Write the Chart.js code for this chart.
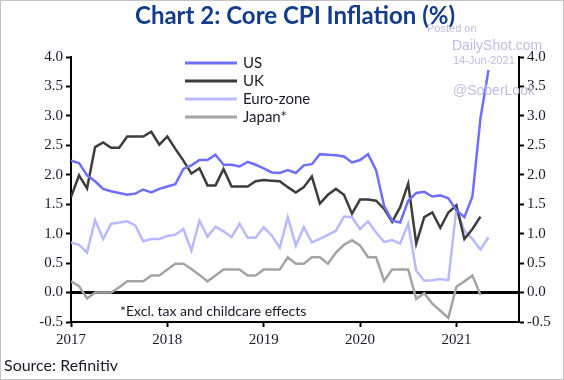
<!DOCTYPE html>
<html>
<head>
<meta charset="utf-8">
<script src="https://cdn.jsdelivr.net/npm/chart.js@4"></script>
<style>
  body { margin: 0; background: #fff; }
  canvas { display: block; }
</style>
</head>
<body>
<canvas id="canvas" width="564" height="380"></canvas>
<script>
"use strict"

// monthly, starting Jan 2017
const startYear = 2017;
const yearTicks = ['2017', '2018', '2019', '2020', '2021'];
const seriesNames = ['US', 'UK', 'Euro-zone', 'Japan*'];

const usCore = [
    2.24, 2.20, 1.99, 1.89, 1.76, 1.72, 1.69, 1.66, 1.68, 1.75, 1.70, 1.76,
    1.80, 1.84, 2.10, 2.16, 2.25, 2.25, 2.34, 2.17, 2.17, 2.14, 2.22, 2.17,
    2.11, 2.04, 2.03, 2.08, 2.03, 2.16, 2.18, 2.35, 2.34, 2.33, 2.31, 2.21,
    2.25, 2.35, 2.08, 1.47, 1.22, 1.19, 1.56, 1.69, 1.71, 1.63, 1.65, 1.60,
    1.40, 1.28, 1.63, 2.96, 3.78
];
const ukCore = [
    1.62, 1.99, 1.77, 2.47, 2.55, 2.46, 2.46, 2.65, 2.65, 2.65, 2.73, 2.51,
    2.65, 2.44, 2.24, 2.02, 2.11, 1.82, 1.82, 2.10, 1.80, 1.80, 1.80, 1.89,
    1.91, 1.90, 1.89, 1.79, 1.70, 1.79, 1.97, 1.51, 1.66, 1.76, 1.66, 1.34,
    1.58, 1.58, 1.56, 1.42, 1.20, 1.45, 1.85, 0.83, 1.28, 1.36, 1.10, 1.36,
    1.48, 0.91, 1.08, 1.29
];
const euroCore = [
    0.85, 0.81, 0.68, 1.23, 0.91, 1.17, 1.19, 1.21, 1.14, 0.87, 0.91, 0.91,
    0.96, 0.98, 1.08, 0.71, 1.22, 0.95, 1.12, 1.04, 0.94, 1.17, 0.93, 0.93,
    1.11, 0.97, 0.76, 1.28, 0.80, 1.11, 0.85, 0.91, 0.98, 1.05, 1.29, 1.28,
    1.08, 1.21, 1.02, 0.86, 0.89, 0.83, 1.17, 0.37, 0.20, 0.21, 0.23, 0.21,
    1.42, 1.05, 0.91, 0.73, 0.94
];
const japanCore = [
    0.19, 0.11, -0.10, 0.00, 0.00, 0.00, 0.09, 0.19, 0.19, 0.19, 0.29, 0.29,
    0.39, 0.49, 0.49, 0.40, 0.30, 0.19, 0.29, 0.39, 0.39, 0.39, 0.29, 0.29,
    0.39, 0.39, 0.39, 0.60, 0.49, 0.49, 0.60, 0.60, 0.49, 0.68, 0.81, 0.89,
    0.80, 0.60, 0.60, 0.20, 0.39, 0.39, 0.39, -0.11, -0.01, -0.19, -0.31, -0.43,
    0.10, 0.19, 0.29, -0.04
];

const colori = ['#6e6eff', '#3d3d3d', '#b9b9ff', '#a4a4a4'];

function punti(valori){
    return valori.map((v, i) => ({x: i, y: v}));
}

// title, notes, watermark, legend and frame
const decorazioni = {
    id: 'decorazioni',
    afterDraw(chart){
        const ctx = chart.ctx;
        ctx.save();
        ctx.strokeStyle = '#c4c4c4';
        ctx.lineWidth = 1;
        ctx.strokeRect(0.5, 0.5, 563, 379);

        ctx.fillStyle = '#143c8c';
        ctx.font = 'bold 24px Lato';
        ctx.textAlign = 'center';
        ctx.textBaseline = 'middle';
        ctx.fillText('Chart 2: Core CPI Inflation (%)', 295, 16);

        ctx.fillStyle = '#bdbde0';
        ctx.textAlign = 'left';
        ctx.font = '11px "Liberation Sans"';
        ctx.fillText('Posted on', 427, 29);
        ctx.fillText('14-Jun-2021', 453, 61);
        ctx.font = '14px "Liberation Sans"';
        ctx.fillText('DailyShot.com', 452, 46);
        ctx.fillText('@SoberLook', 453, 91);

        // legend
        chart.data.datasets.forEach((ds, i) => {
            const y = 63 + i * 18;
            ctx.strokeStyle = ds.borderColor;
            ctx.lineWidth = 3;
            ctx.beginPath();
            ctx.moveTo(185, y);
            ctx.lineTo(237, y);
            ctx.stroke();
            ctx.fillStyle = '#1a1a2a';
            ctx.font = '15px Lato';
            ctx.fillText(ds.label, 243, y);
        });

        ctx.fillStyle = '#1a1a2a';
        ctx.font = '14px Lato';
        ctx.fillText('*Excl. tax and childcare effects', 120, 311);
        ctx.font = '16px Lato';
        ctx.fillText('Source: Refinitiv', 4, 366);
        ctx.restore();
    }
};

const fontAssi = {family: '"Liberation Serif"', size: 15};

const ctx = document.getElementById('canvas').getContext('2d');
const myChart = new Chart(ctx, {
    type: 'line',
    data: {
        datasets: [usCore, ukCore, euroCore, japanCore].map((serie, i) => ({
            label: seriesNames[i],
            data: punti(serie),
            borderColor: colori[i],
            borderWidth: 2.5,
            pointRadius: 0,
            tension: 0,
            fill: false
        }))
    },
    options: {
        responsive: false,
        animation: false,
        layout: {padding: {top: 57, bottom: 28, left: 0, right: 0}},
        plugins: {
            legend: {display: false},
            tooltip: {enabled: false}
        },
        scales: {
            x: {
                type: 'linear',
                min: 0,
                max: 55.8,
                afterFit: s => { s.height = 30; },
                border: {color: '#000', width: 2},
                grid: {drawOnChartArea: false, tickLength: 5, tickColor: '#000', tickWidth: 2},
                ticks: {
                    stepSize: 12,
                    includeBounds: false,
                    autoSkip: false,
                    maxRotation: 0,
                    color: '#1a1a2a',
                    font: fontAssi,
                    padding: 4,
                    callback: v => yearTicks[v / 12] || ''
                }
            },
            y: {
                min: -0.5,
                max: 4.0,
                position: 'left',
                afterFit: s => { s.width = 71; },
                border: {color: '#000', width: 2},
                grid: {
                    color: c => c.tick && c.tick.value === 0 ? '#000' : 'rgba(0,0,0,0)',
                    lineWidth: c => c.tick && c.tick.value === 0 ? 3 : 1,
                    tickColor: '#000',
                    tickLength: 5,
                    tickWidth: 2
                },
                ticks: {
                    stepSize: 0.5,
                    color: '#1a1a2a',
                    font: fontAssi,
                    padding: 3,
                    callback: v => v.toFixed(1)
                }
            },
            y2: {
                min: -0.5,
                max: 4.0,
                position: 'right',
                afterFit: s => { s.width = 45; },
                border: {color: '#000', width: 2},
                grid: {drawOnChartArea: false, tickColor: '#000', tickLength: 5, tickWidth: 2},
                ticks: {
                    stepSize: 0.5,
                    color: '#1a1a2a',
                    font: fontAssi,
                    padding: 3,
                    callback: v => v.toFixed(1)
                }
            }
        }
    },
    plugins: [decorazioni]
});
</script>
</body>
</html>
